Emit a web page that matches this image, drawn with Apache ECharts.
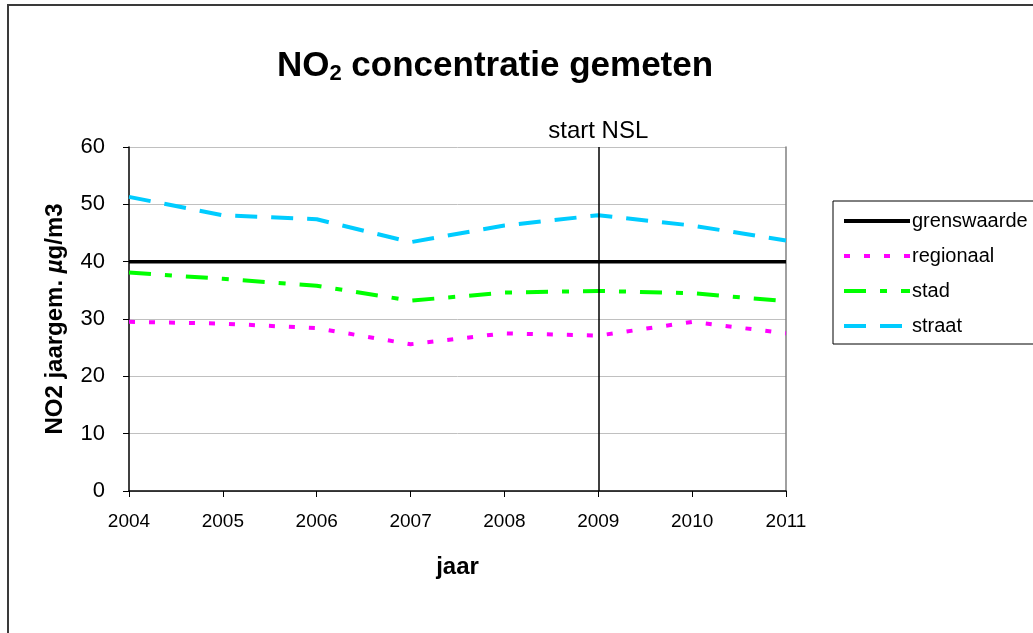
<!DOCTYPE html>
<html>
<head>
<meta charset="utf-8">
<title>NO2 concentratie gemeten</title>
<script src="https://cdn.jsdelivr.net/npm/echarts@6/dist/echarts.min.js"></script>
<style>
	html, body { margin: 0; padding: 0; background: #fff; overflow: hidden; }
	.frame { position: absolute; left: 7px; top: 4px; width: 1200px; height: 800px; border: 2px solid #3a3a3a; }
	/* breder dan het venster: de legenda loopt rechts uit beeld */
	.chart { position: absolute; left: 0; top: 0; width: 1100px; height: 633px; }
</style>
</head>
<body>
<div class="frame"></div>
<div class="chart"></div>
<script>
// data
const jaren = ['2004', '2005', '2006', '2007', '2008', '2009', '2010', '2011'];
const grenswaarde = [40, 40, 40, 40, 40, 40, 40, 40];
const regionaal = [29.5, 29.2, 28.4, 25.6, 27.5, 27.1, 29.5, 27.5];
const stad = [38.1, 37.0, 35.8, 33.2, 34.6, 34.9, 34.5, 33.1];
const straat = [51.3, 48.1, 47.4, 43.4, 46.3, 48.1, 46.3, 43.7];
const startNSL = '2009';

(function() {
	let myChart = echarts.init(document.querySelector('.chart'));

	let font = '"Liberation Sans", Arial, sans-serif';

	let option = {
		backgroundColor: 'transparent',
		textStyle: { fontFamily: font, color: '#000' },
		title: {
			text: '{a|NO}{s|2}{a| concentratie gemeten}',
			left: 490,
			top: 42,
			textAlign: 'center',
			textStyle: {
				rich: {
					a: { fontFamily: font, fontSize: 35, fontWeight: 'bold', color: '#000' },
					s: { fontFamily: font, fontSize: 22, fontWeight: 'bold', color: '#000', padding: [16, 0, 0, 0] }
				}
			}
		},
		legend: {
			orient: 'vertical',
			left: 833,
			top: 201,
			padding: [10, 60, 8, 9],
			itemWidth: 66,
			itemHeight: 14,
			itemGap: 15,
			borderColor: '#000',
			borderWidth: 1,
			itemStyle: { opacity: 0 },
			lineStyle: { width: 4 },
			textStyle: { fontFamily: font, fontSize: 20, color: '#000', padding: [0, 0, 0, -3] },
			data: ['grenswaarde', 'regionaal', 'stad', 'straat']
		},
		grid: {
			left: 129,
			right: 314,
			top: 147,
			bottom: 142
		},
		xAxis: {
			type: 'category',
			boundaryGap: false,
			data: jaren,
			name: 'jaar',
			nameLocation: 'middle',
			nameGap: 64,
			nameTextStyle: { fontFamily: font, fontSize: 24, fontWeight: 'bold', color: '#000' },
			axisLine: { lineStyle: { color: '#000', width: 1.5 } },
			axisTick: { alignWithLabel: true, length: 6, lineStyle: { color: '#000' } },
			axisLabel: { fontFamily: font, fontSize: 19, color: '#000', margin: 21 }
		},
		yAxis: [
			{
				type: 'value',
				min: 0,
				max: 60,
				interval: 10,
				name: '{b|NO2 jaargem. }{i|µ}{b|g/m3}',
				nameLocation: 'middle',
				nameRotate: 90,
				nameGap: 62,
				nameTextStyle: {
					rich: {
						b: { fontFamily: font, fontSize: 24, fontWeight: 'bold', color: '#000' },
						i: { fontFamily: font, fontSize: 24, fontWeight: 'bold', fontStyle: 'italic', color: '#000' }
					}
				},
				axisLine: { show: true, lineStyle: { color: '#000', width: 1.5 } },
				axisTick: { show: true, length: 6, lineStyle: { color: '#000' } },
				axisLabel: { fontFamily: font, fontSize: 22, color: '#000', margin: 24 },
				splitLine: { lineStyle: { color: '#c0c0c0', width: 1 } }
			},
			{
				// rechterrand van het plotvlak
				type: 'value',
				position: 'right',
				min: 0,
				max: 60,
				interval: 10,
				axisLine: { show: true, lineStyle: { color: '#808080', width: 1.5 } },
				axisTick: { show: false },
				axisLabel: { show: false },
				splitLine: { show: false }
			}
		],
		series: [
			{
				name: 'grenswaarde',
				type: 'line',
				symbol: 'none',
				color: '#000',
				lineStyle: { color: '#000', width: 3.5 },
				data: grenswaarde,
				z: 3,
				markLine: {
					silent: true,
					symbol: 'none',
					lineStyle: { color: '#000', width: 1.5, type: 'solid' },
					label: {
						position: 'end',
						formatter: 'start NSL',
						fontFamily: font,
						fontSize: 24,
						color: '#000',
						distance: 4
					},
					data: [{ xAxis: startNSL }]
				}
			},
			{
				name: 'regionaal',
				type: 'line',
				symbol: 'none',
				color: '#ff00ff',
				lineStyle: { color: '#ff00ff', width: 4, type: [6, 14], cap: 'butt' },
				data: regionaal
			},
			{
				name: 'stad',
				type: 'line',
				symbol: 'none',
				color: '#00ff00',
				lineStyle: { color: '#00ff00', width: 4, type: [22, 14, 7, 14], cap: 'butt' },
				data: stad
			},
			{
				name: 'straat',
				type: 'line',
				symbol: 'none',
				color: '#00ccff',
				lineStyle: { color: '#00ccff', width: 4, type: [22, 14], cap: 'butt' },
				data: straat
			}
		]
	};

	myChart.setOption(option);

	window.addEventListener('resize', function() {
		myChart.resize();
	});
})();
</script>
</body>
</html>
